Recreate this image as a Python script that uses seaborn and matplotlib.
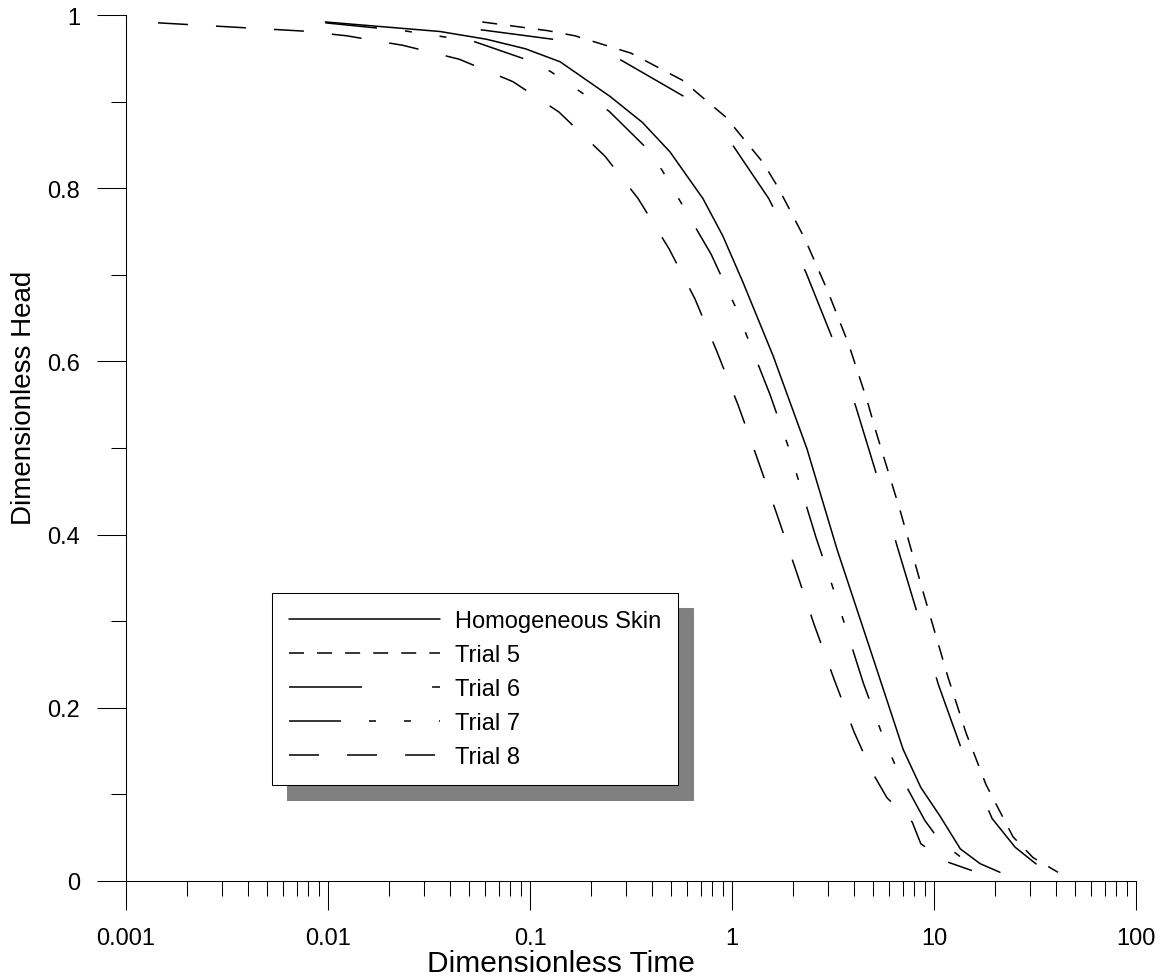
import pandas as pd
import seaborn as sns
import matplotlib.pyplot as plt
from matplotlib.ticker import FixedLocator, MultipleLocator, NullFormatter, LogLocator

# values
curve_names = ["Homogeneous Skin", "Trial 5", "Trial 6", "Trial 7", "Trial 8"]

homog_t = [0.0097, 0.0358, 0.061, 0.095, 0.141, 0.249, 0.36, 0.493, 0.718, 0.9, 1.13, 1.60,
           2.35, 3.31, 4.82, 7.03, 8.6, 10.7, 13.5, 16.9, 21.2]
homog_h = [0.992, 0.981, 0.972, 0.961, 0.946, 0.906, 0.876, 0.842, 0.788, 0.745, 0.692, 0.606,
           0.499, 0.383, 0.268, 0.152, 0.108, 0.075, 0.037, 0.020, 0.010]

trial5_t = [0.058, 0.122, 0.167, 0.316, 0.565, 0.933, 1.42, 1.69, 2.30, 2.98, 3.79,
            4.66, 5.22, 6.79, 8.9, 11.7, 14.4, 18.1, 24.6, 30.9, 41.1]
trial5_h = [0.992, 0.982, 0.976, 0.956, 0.925, 0.882, 0.830, 0.801, 0.741, 0.681, 0.619,
            0.555, 0.515, 0.428, 0.331, 0.236, 0.171, 0.111, 0.051, 0.027, 0.010]

trial6_t = [0.057, 0.130, 0.282, 0.578, 1.02, 1.52, 2.32, 3.16, 4.11, 5.23, 6.56,
            8.34, 10.5, 13.5, 19.4, 25.2, 34.3]
trial6_h = [0.983, 0.972, 0.948, 0.906, 0.848, 0.788, 0.703, 0.625, 0.547, 0.467, 0.387,
            0.306, 0.227, 0.156, 0.072, 0.039, 0.014]

trial7_t = [0.0097, 0.0235, 0.037, 0.0535, 0.092, 0.126, 0.246, 0.371, 0.45, 0.787, 1.035,
            1.54, 1.89, 2.61, 3.24, 4.46, 5.6, 6.56, 9.0, 10.7, 14.2]
trial7_h = [0.991, 0.982, 0.975, 0.969, 0.950, 0.935, 0.889, 0.848, 0.821, 0.724, 0.664,
            0.562, 0.503, 0.396, 0.331, 0.229, 0.166, 0.129, 0.070, 0.046, 0.024]

trial8_t = [0.00144, 0.0075, 0.0124, 0.0235, 0.0446, 0.0824, 0.139, 0.235, 0.343, 0.488,
            0.656, 0.843, 1.07, 1.27, 1.67, 2.07, 2.55, 3.20, 4.02, 4.93, 5.85, 7.8, 8.6,
            11.3, 15.4]
trial8_h = [0.991, 0.9815, 0.976, 0.965, 0.949, 0.923, 0.888, 0.837, 0.788, 0.730,
            0.672, 0.611, 0.550, 0.502, 0.423, 0.359, 0.296, 0.233, 0.172, 0.126, 0.096, 0.068, 0.043,
            0.023, 0.012]

x_ticks = [0.001, 0.01, 0.1, 1, 10, 100]
x_labels = ["0.001", "0.01", "0.1", "1", "10", "100"]
y_ticks = [0, 0.2, 0.4, 0.6, 0.8, 1]
y_labels = ["0", "0.2", "0.4", "0.6", "0.8", "1"]


def build_frame():
    series = [(homog_t, homog_h), (trial5_t, trial5_h), (trial6_t, trial6_h),
              (trial7_t, trial7_h), (trial8_t, trial8_h)]
    parts = []
    for name, (t, h) in zip(curve_names, series):
        parts.append(pd.DataFrame({"time": t, "head": h, "curve": name}))
    return pd.concat(parts, ignore_index=True)


def main():
    sns.set_style("ticks")
    plt.rcParams["font.family"] = ["Liberation Sans", "DejaVu Sans"]
    plt.rcParams["lines.scale_dashes"] = False
    plt.rcParams["text.color"] = "black"
    plt.rcParams["axes.labelcolor"] = "black"

    df = build_frame()

    # dash patterns in points (1 pt = 1.39 px at dpi 100)
    dash_map = {
        "Homogeneous Skin": "",
        "Trial 5": (10.8, 9.4),
        "Trial 6": (52.6, 50.4),
        "Trial 7": (37.4, 20.2, 5.0, 20.2, 5.0, 20.2),
        "Trial 8": (21.6, 20.2),
    }

    fig, ax = plt.subplots(figsize=(11.69, 9.78), dpi=100)
    fig.subplots_adjust(left=0.1078, right=0.9718, bottom=0.0982, top=0.9836)

    sns.lineplot(data=df, x="time", y="head", style="curve", style_order=curve_names,
                 dashes=dash_map, color="black", linewidth=1.1, ax=ax)
    for line in ax.get_lines():
        line.set_solid_joinstyle("round")
        line.set_dash_joinstyle("round")

    ax.set_xscale("log")
    ax.set_xlim(0.001, 100)
    ax.set_ylim(0, 1)
    ax.xaxis.set_major_locator(FixedLocator(x_ticks))
    ax.set_xticklabels(x_labels)
    ax.xaxis.set_minor_locator(LogLocator(base=10, subs=range(2, 10), numticks=20))
    ax.xaxis.set_minor_formatter(NullFormatter())
    ax.yaxis.set_major_locator(FixedLocator(y_ticks))
    ax.set_yticklabels(y_labels)
    ax.yaxis.set_minor_locator(MultipleLocator(0.1))

    sns.despine(ax=ax)
    for side in ["left", "bottom"]:
        ax.spines[side].set_linewidth(0.75)
        ax.spines[side].set_color("black")

    ax.tick_params(which="major", direction="out", length=21, width=0.75,
                   colors="black", labelsize=17, pad=12)
    ax.tick_params(which="minor", direction="out", length=10.8, width=0.75, colors="black")

    ax.set_xlabel("Dimensionless Time", fontsize=21.5, color="black")
    ax.set_ylabel("Dimensionless Head", fontsize=20, color="black")
    ax.xaxis.set_label_coords(0.431, -0.078)
    ax.yaxis.set_label_coords(-0.088, 0.559)

    # legend with a grey drop shadow
    old = ax.get_legend()
    handles = old.legend_handles
    labels = [t.get_text() for t in old.get_texts()]
    old.remove()
    leg = ax.legend(handles, labels, loc="upper left", bbox_to_anchor=(0.1446, 0.3326),
                    borderaxespad=0, frameon=True, fancybox=False, framealpha=1,
                    edgecolor="black", fontsize=17, handlelength=6.4, handletextpad=0.62,
                    borderpad=0.72, labelspacing=0.51, labelcolor="black",
                    shadow={"ox": 10.8, "oy": -10.8, "facecolor": "#808080",
                            "edgecolor": "#808080", "alpha": 1})
    leg.get_frame().set_linewidth(0.75)
    for h in leg.legend_handles:
        h.set_color("black")
        h.set_linewidth(1.1)

    fig.savefig("out.png", dpi=100)


if __name__ == "__main__":
    main()
